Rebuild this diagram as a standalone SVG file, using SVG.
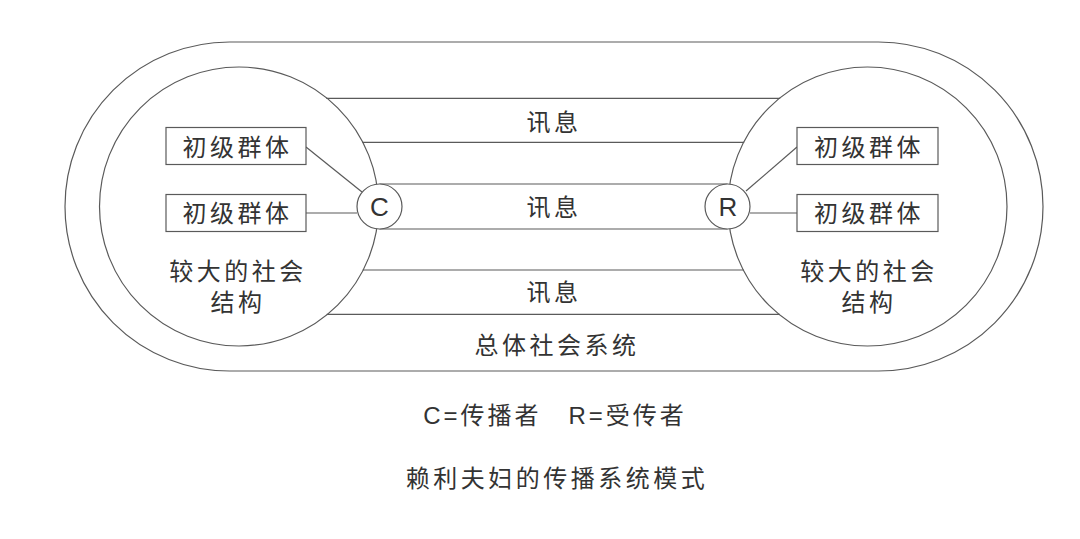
<svg xmlns="http://www.w3.org/2000/svg" width="1080" height="539" viewBox="0 0 1080 539">
<style>
.ln{stroke:#5a5a5a;stroke-width:1.2;fill:none}
.wf{stroke:#5a5a5a;stroke-width:1.2;fill:#fff}
.t{font-family:"Liberation Sans","Noto Sans CJK SC",sans-serif;font-size:24px;fill:#333;text-anchor:middle;dominant-baseline:central;letter-spacing:3.5px}
.l{font-family:"Liberation Sans",sans-serif;font-size:26px;fill:#333;text-anchor:middle;dominant-baseline:central}
</style>
<rect width="1080" height="539" fill="#fff"/>
<g id="total-system">
<path class="ln" d="M229.5,42 H878.5 A164.5,164.5 0 0 1 878.5,371 H229.5 A164.5,164.5 0 0 1 229.5,42 Z"/>
<text class="t" x="557" y="345">总体社会系统</text>
</g>
<g id="connectors">
<line class="ln" x1="326.3" y1="98.3" x2="780.2" y2="98.3"/>
<line class="ln" x1="362.3" y1="142.3" x2="744.2" y2="142.3"/>
<line class="ln" x1="379.5" y1="184" x2="727.5" y2="184"/>
<line class="ln" x1="379.5" y1="229" x2="727.5" y2="229"/>
<line class="ln" x1="362.6" y1="270" x2="743.9" y2="270"/>
<line class="ln" x1="326.7" y1="314.3" x2="779.8" y2="314.3"/>
<line class="ln" x1="306" y1="147" x2="362" y2="192"/>
<line class="ln" x1="306" y1="213" x2="357" y2="213"/>
<line class="ln" x1="746" y1="191" x2="797" y2="147"/>
<line class="ln" x1="750" y1="213" x2="797" y2="213"/>
</g>
<g id="left-structure">
<circle class="ln" cx="239" cy="206.5" r="139.5"/>
<text class="t" x="238" y="271">较大的社会</text>
<text class="t" x="238" y="302">结构</text>
</g>
<g id="right-structure">
<circle class="ln" cx="867.5" cy="206.5" r="139.5"/>
<text class="t" x="869" y="271">较大的社会</text>
<text class="t" x="869" y="302">结构</text>
</g>
<g id="msg1"><text class="t" x="554" y="122">讯息</text></g>
<g id="msg2"><text class="t" x="554" y="207">讯息</text></g>
<g id="msg3"><text class="t" x="554" y="292">讯息</text></g>
<g id="node-c">
<circle class="wf" cx="379.5" cy="206.5" r="22.5"/>
<text class="l" x="379.5" y="207">C</text>
</g>
<g id="node-r">
<circle class="wf" cx="727.5" cy="206.5" r="22.5"/>
<text class="l" x="728" y="207">R</text>
</g>
<g id="left-group1">
<rect class="wf" x="166" y="127.5" width="140" height="37"/>
<text class="t" x="237.5" y="147">初级群体</text>
</g>
<g id="left-group2">
<rect class="wf" x="166" y="194.5" width="140" height="37"/>
<text class="t" x="237.5" y="213">初级群体</text>
</g>
<g id="right-group1">
<rect class="wf" x="797" y="127.5" width="141" height="37"/>
<text class="t" x="869" y="147">初级群体</text>
</g>
<g id="right-group2">
<rect class="wf" x="797" y="194.5" width="141" height="37"/>
<text class="t" x="869" y="213">初级群体</text>
</g>
<g id="legend">
<text class="t" x="555" y="415" style="letter-spacing:3px">C=传播者　R=受传者</text>
<text class="t" x="557" y="478">赖利夫妇的传播系统模式</text>
</g>
</svg>
